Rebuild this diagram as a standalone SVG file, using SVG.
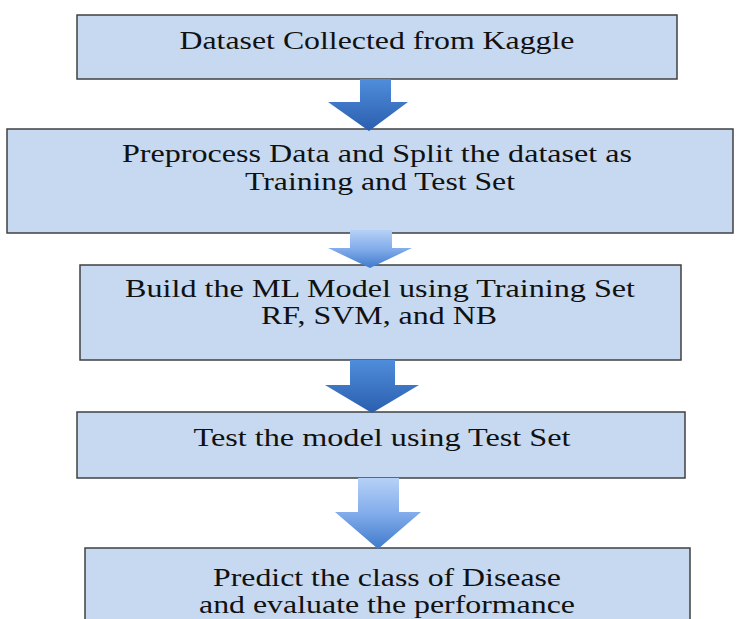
<svg xmlns="http://www.w3.org/2000/svg" width="738" height="619" viewBox="0 0 738 619">
  <style>
    .box { fill: #c6d9f1; stroke: #404040; stroke-width: 1.5; }
    .lbl { font-family: "Liberation Serif", "Times New Roman", serif; font-size: 25px; fill: #111111; text-anchor: middle; }
    .dark { fill: url(#gDark); }
    .light { fill: url(#gLight); }
  </style>
  <defs>
    <linearGradient id="gDark" x1="0" y1="0" x2="0" y2="1">
      <stop offset="0" stop-color="#4f8ddb"/>
      <stop offset="1" stop-color="#2a5fae"/>
    </linearGradient>
    <linearGradient id="gLight" x1="0" y1="0" x2="0" y2="1">
      <stop offset="0" stop-color="#b6d1f7"/>
      <stop offset="0.5" stop-color="#82aceb"/>
      <stop offset="1" stop-color="#3f7acb"/>
    </linearGradient>
  </defs>
  <rect width="738" height="619" fill="#ffffff"/>

  <g id="n1">
    <rect class="box" x="77" y="15" width="600" height="64"/>
    <text class="lbl" x="377" y="49" textLength="395" lengthAdjust="spacingAndGlyphs">Dataset Collected from Kaggle</text>
  </g>
  <g id="n2">
    <rect class="box" x="7" y="129" width="726" height="104"/>
    <text class="lbl" x="377" y="162" textLength="510" lengthAdjust="spacingAndGlyphs">Preprocess Data and Split the dataset as</text>
    <text class="lbl" x="380" y="190" textLength="270" lengthAdjust="spacingAndGlyphs">Training and Test Set</text>
  </g>
  <g id="n3">
    <rect class="box" x="80" y="265" width="601" height="95"/>
    <text class="lbl" x="380" y="297" textLength="510" lengthAdjust="spacingAndGlyphs">Build the ML Model using Training Set</text>
    <text class="lbl" x="379" y="324" textLength="236" lengthAdjust="spacingAndGlyphs">RF, SVM, and NB</text>
  </g>
  <g id="n4">
    <rect class="box" x="77" y="412" width="608" height="66"/>
    <text class="lbl" x="382" y="446" textLength="377" lengthAdjust="spacingAndGlyphs">Test the model using Test Set</text>
  </g>
  <g id="n5">
    <rect class="box" x="85" y="548" width="605" height="80"/>
    <text class="lbl" x="387" y="586" textLength="348" lengthAdjust="spacingAndGlyphs">Predict the class of Disease</text>
    <text class="lbl" x="387" y="613" textLength="376" lengthAdjust="spacingAndGlyphs">and evaluate the performance</text>
  </g>

  <g id="connectors">
    <polygon class="dark" points="360,79 391,79 391,102 408,102 369,131 328,102 360,102"/>
    <polygon class="light" points="350,230 392,230 392,248 412,248 370,268 328,248 350,248"/>
    <polygon class="dark" points="350,360 395,360 395,385 419,385 372,413 325,385 350,385"/>
    <polygon class="light" points="358,478 399,478 399,512 421,512 378,549 335,512 358,512"/>
  </g>
</svg>
